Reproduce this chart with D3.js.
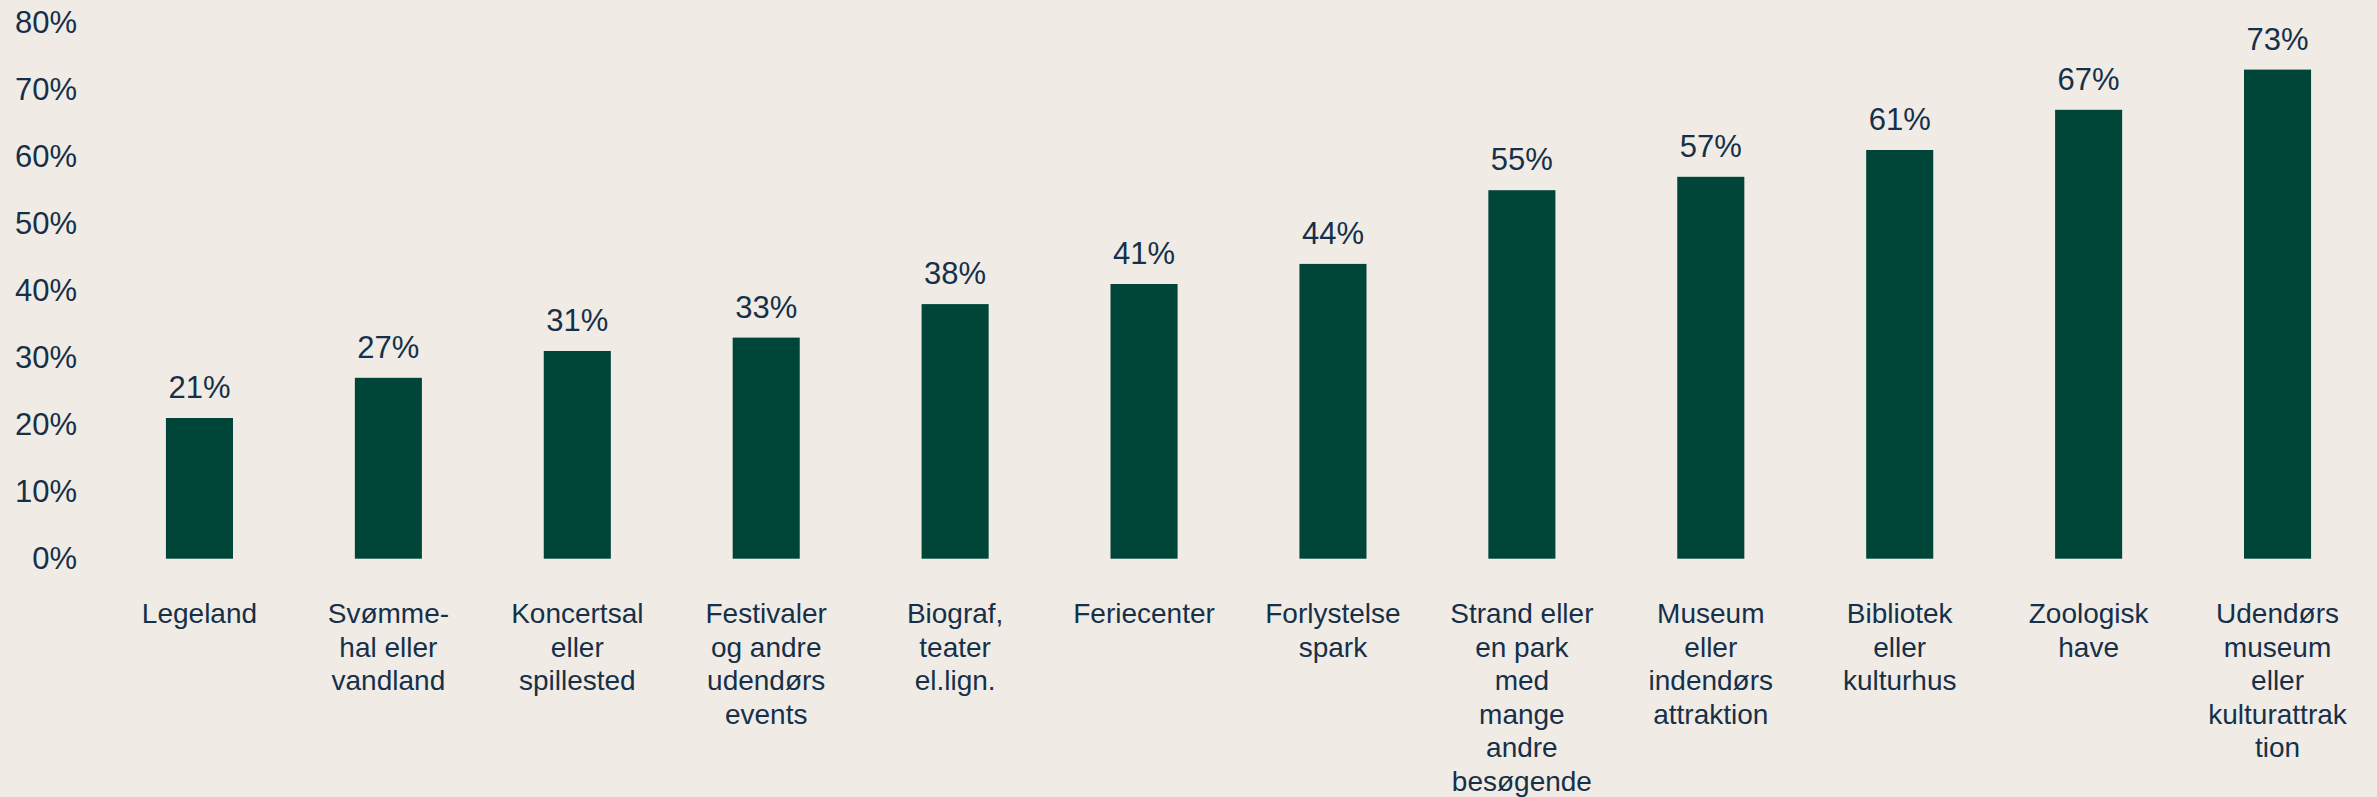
<!DOCTYPE html>
<html>
<head>
<meta charset="utf-8">
<script src="https://cdn.jsdelivr.net/npm/d3@7"></script>
<style>
  html, body { margin: 0; padding: 0; background: #F0ECE5; }
  svg { display: block; }
  text { font-family: "Liberation Sans", Arial, sans-serif; fill: #16304A; }
</style>
</head>
<body>
<svg id="chart" width="2377" height="797"></svg>
<script>
const categories = [
  "Legeland",
  "Svømme-hal eller vandland",
  "Koncertsal eller spillested",
  "Festivaler og andre udendørs events",
  "Biograf, teater el.lign.",
  "Feriecenter",
  "Forlystelsespark",
  "Strand eller en park med mange andre besøgende",
  "Museum eller indendørs attraktion",
  "Bibliotek eller kulturhus",
  "Zoologisk have",
  "Udendørs museum eller kulturattraktion"
];
const categoryLines = [
  ["Legeland"],
  ["Svømme-", "hal eller", "vandland"],
  ["Koncertsal", "eller", "spillested"],
  ["Festivaler", "og andre", "udendørs", "events"],
  ["Biograf,", "teater", "el.lign."],
  ["Feriecenter"],
  ["Forlystelse", "spark"],
  ["Strand eller", "en park", "med", "mange", "andre", "besøgende"],
  ["Museum", "eller", "indendørs", "attraktion"],
  ["Bibliotek", "eller", "kulturhus"],
  ["Zoologisk", "have"],
  ["Udendørs", "museum", "eller", "kulturattrak", "tion"]
];
const values = [21, 27, 31, 33, 38, 41, 44, 55, 57, 61, 67, 73];
const yTicks = [0, 10, 20, 30, 40, 50, 60, 70, 80];

const svg = d3.select("#chart");

const x = d3.scaleBand()
  .domain(categories)
  .range([105, 2372])
  .paddingInner(0.645)
  .paddingOuter(0.3225);

const y = d3.scaleLinear()
  .domain([0, 80])
  .range([558.7, 22.7]);

// Y axis
const yAxis = svg.append("g")
  .attr("transform", "translate(105,0)")
  .call(d3.axisLeft(y).tickValues(yTicks).tickSize(0).tickPadding(28).tickFormat(d => d + "%"));
yAxis.select(".domain").remove();
yAxis.selectAll("text")
  .style("font-family", '"Liberation Sans", Arial, sans-serif')
  .style("font-size", "31px")
  .style("fill", "#16304A");

// Bars
svg.append("g").selectAll("rect")
  .data(values)
  .join("rect")
  .attr("x", (d, i) => x(categories[i]))
  .attr("width", x.bandwidth())
  .attr("y", d => y(d))
  .attr("height", d => y(0) - y(d))
  .attr("fill", "#004638");

// Value labels
svg.append("g").selectAll("text")
  .data(values)
  .join("text")
  .attr("x", (d, i) => x(categories[i]) + x.bandwidth() / 2)
  .attr("y", d => y(d) - 20)
  .attr("text-anchor", "middle")
  .style("font-size", "31px")
  .text(d => d + "%");

// Category labels
const cat = svg.append("g").selectAll("text")
  .data(categoryLines)
  .join("text")
  .attr("text-anchor", "middle")
  .attr("transform", (d, i) => `translate(${x(categories[i]) + x.bandwidth() / 2},623)`)
  .style("font-size", "28px");
cat.selectAll("tspan")
  .data(d => d)
  .join("tspan")
  .attr("x", 0)
  .attr("y", (d, j) => j * 33.6)
  .text(d => d);
</script>
</body>
</html>
